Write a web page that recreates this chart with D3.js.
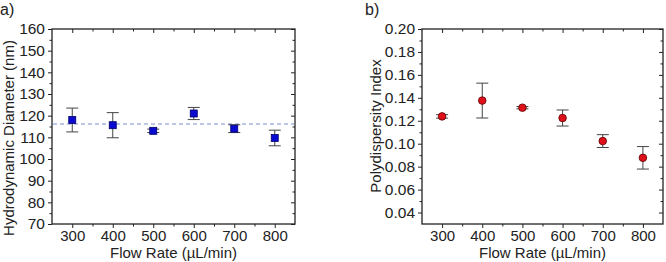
<!DOCTYPE html>
<html>
<head>
<meta charset="utf-8">
<script src="https://cdn.jsdelivr.net/npm/d3@7"></script>
<style>
  body { margin: 0; background: #fff; }
  svg text { font-family: "Liberation Sans", Arial, sans-serif; fill: #222; }
</style>
</head>
<body>
<div id="chart"></div>
<script>
// flow rates shared by both panels
var flowRates = [300, 400, 500, 600, 700, 800];
var xTicks = [300, 400, 500, 600, 700, 800];

// panel a) hydrodynamic diameter (nm)
var diameter = [118.0, 115.6, 113.0, 121.0, 114.0, 109.7];
var diameterErr = [5.5, 5.8, 0.8, 2.8, 1.8, 3.6];
var diameterMean = 116.1;
var diameterTicks = [70, 80, 90, 100, 110, 120, 130, 140, 150, 160];

// panel b) polydispersity index
var pdi = [0.1238, 0.1376, 0.1314, 0.1224, 0.1023, 0.0877];
var pdiErr = [0.0015, 0.0152, 0.0010, 0.0070, 0.0056, 0.0098];
var pdiTicks = [0.04, 0.06, 0.08, 0.10, 0.12, 0.14, 0.16, 0.18, 0.20];

var svg = d3.select("#chart")
  .append("svg")
    .attr("width", 666)
    .attr("height", 262);

function drawPanel(opt) {
    var g = svg.append("g");
    var x = d3.scaleLinear().domain([250, 850]).range([opt.left, opt.right]);
    var y = d3.scaleLinear().domain(opt.yDomain).range([opt.bottom, opt.top]);

    // minor ticks (half steps)
    var xMinor = d3.range(350, 850, 100);
    var yMinor = opt.yMinor;

    // bottom axis, outward ticks
    g.append("g")
      .attr("transform", "translate(0," + opt.bottom + ")")
      .call(d3.axisBottom(x).tickValues(xTicks).tickSize(4).tickPadding(2).tickFormat(d3.format("d")))
      .call(function(a) { a.select(".domain").remove(); a.selectAll("text").style("font-size", "15px"); });
    g.append("g")
      .attr("transform", "translate(0," + opt.bottom + ")")
      .call(d3.axisBottom(x).tickValues(xMinor).tickSize(2.5).tickFormat(""))
      .call(function(a) { a.select(".domain").remove(); });

    // left axis, outward ticks
    g.append("g")
      .attr("transform", "translate(" + opt.left + ",0)")
      .call(d3.axisLeft(y).tickValues(opt.yTicks).tickSize(4).tickPadding(3).tickFormat(opt.yFormat))
      .call(function(a) { a.select(".domain").remove(); a.selectAll("text").style("font-size", "15.5px"); });
    g.append("g")
      .attr("transform", "translate(" + opt.left + ",0)")
      .call(d3.axisLeft(y).tickValues(yMinor).tickSize(2.5).tickFormat(""))
      .call(function(a) { a.select(".domain").remove(); });

    // mirrored top / right ticks pointing inward
    g.append("g")
      .attr("transform", "translate(0," + opt.top + ")")
      .call(d3.axisBottom(x).tickValues(xTicks).tickSize(4).tickFormat(""))
      .call(function(a) { a.select(".domain").remove(); });
    g.append("g")
      .attr("transform", "translate(0," + opt.top + ")")
      .call(d3.axisBottom(x).tickValues(xMinor).tickSize(2.5).tickFormat(""))
      .call(function(a) { a.select(".domain").remove(); });
    g.append("g")
      .attr("transform", "translate(" + opt.right + ",0)")
      .call(d3.axisLeft(y).tickValues(opt.yTicks).tickSize(4).tickFormat(""))
      .call(function(a) { a.select(".domain").remove(); });
    g.append("g")
      .attr("transform", "translate(" + opt.right + ",0)")
      .call(d3.axisLeft(y).tickValues(yMinor).tickSize(2.5).tickFormat(""))
      .call(function(a) { a.select(".domain").remove(); });

    g.selectAll(".tick line").attr("stroke", "#222").attr("stroke-width", 1);

    // frame
    g.append("rect")
      .attr("x", opt.left)
      .attr("y", opt.top)
      .attr("width", opt.right - opt.left)
      .attr("height", opt.bottom - opt.top)
      .attr("fill", "none")
      .attr("stroke", "#222")
      .attr("stroke-width", 1.3);

    if (opt.meanLine !== undefined) {
        g.append("line")
          .attr("x1", opt.left + 1)
          .attr("x2", opt.right - 1)
          .attr("y1", y(opt.meanLine))
          .attr("y2", y(opt.meanLine))
          .attr("stroke", "#a9b7de")
          .attr("stroke-width", 1.5)
          .attr("stroke-dasharray", "4,3");
    }

    var pts = flowRates.map(function(f, i) { return {x: f, y: opt.values[i], e: opt.errors[i]}; });

    // error bars
    var eb = g.append("g").selectAll("g").data(pts).enter().append("g")
      .attr("stroke", "#444").attr("stroke-width", 1);
    eb.append("line")
      .attr("x1", function(d) { return x(d.x); })
      .attr("x2", function(d) { return x(d.x); })
      .attr("y1", function(d) { return y(d.y + d.e); })
      .attr("y2", function(d) { return y(d.y - d.e); });
    eb.append("line")
      .attr("x1", function(d) { return x(d.x) - 6; })
      .attr("x2", function(d) { return x(d.x) + 6; })
      .attr("y1", function(d) { return y(d.y + d.e); })
      .attr("y2", function(d) { return y(d.y + d.e); });
    eb.append("line")
      .attr("x1", function(d) { return x(d.x) - 6; })
      .attr("x2", function(d) { return x(d.x) + 6; })
      .attr("y1", function(d) { return y(d.y - d.e); })
      .attr("y2", function(d) { return y(d.y - d.e); });

    // markers
    if (opt.marker === "square") {
        g.append("g").selectAll("rect").data(pts).enter().append("rect")
          .attr("x", function(d) { return x(d.x) - 3.5; })
          .attr("y", function(d) { return y(d.y) - 3.5; })
          .attr("width", 7)
          .attr("height", 7)
          .attr("fill", "#0a0ad0")
          .attr("stroke", "#00006a")
          .attr("stroke-width", 0.8);
    } else {
        g.append("g").selectAll("circle").data(pts).enter().append("circle")
          .attr("cx", function(d) { return x(d.x); })
          .attr("cy", function(d) { return y(d.y); })
          .attr("r", 3.8)
          .attr("fill", "#e0101a")
          .attr("stroke", "#5a0000")
          .attr("stroke-width", 0.8);
    }

    // titles
    g.append("text")
      .attr("x", (opt.left + opt.right) / 2)
      .attr("y", 258)
      .attr("text-anchor", "middle")
      .style("font-size", "15px")
      .text("Flow Rate (\u00b5L/min)");
    g.append("text")
      .attr("transform", "translate(" + opt.yTitleX + "," + opt.yTitleY + ") rotate(-90)")
      .attr("text-anchor", "middle")
      .style("font-size", "15px")
      .text(opt.yTitle);
    g.append("text")
      .attr("x", opt.labelX)
      .attr("y", 15)
      .style("font-size", "16px")
      .text(opt.label);
}

drawPanel({
    left: 52, right: 295, top: 29, bottom: 224,
    yDomain: [70, 160],
    yTicks: diameterTicks,
    yMinor: d3.range(75, 160, 10),
    yFormat: d3.format("d"),
    values: diameter, errors: diameterErr,
    meanLine: diameterMean,
    marker: "square",
    yTitle: "Hydrodynamic Diameter (nm)",
    yTitleX: 14, yTitleY: 138,
    label: "a)", labelX: 0
});

drawPanel({
    left: 422, right: 663, top: 29, bottom: 224,
    yDomain: [0.03, 0.20],
    yTicks: pdiTicks,
    yMinor: d3.range(0.05, 0.20, 0.02),
    yFormat: d3.format(".2f"),
    values: pdi, errors: pdiErr,
    marker: "circle",
    yTitle: "Polydispersity Index",
    yTitleX: 381, yTitleY: 126,
    label: "b)", labelX: 365
});
</script>
</body>
</html>
